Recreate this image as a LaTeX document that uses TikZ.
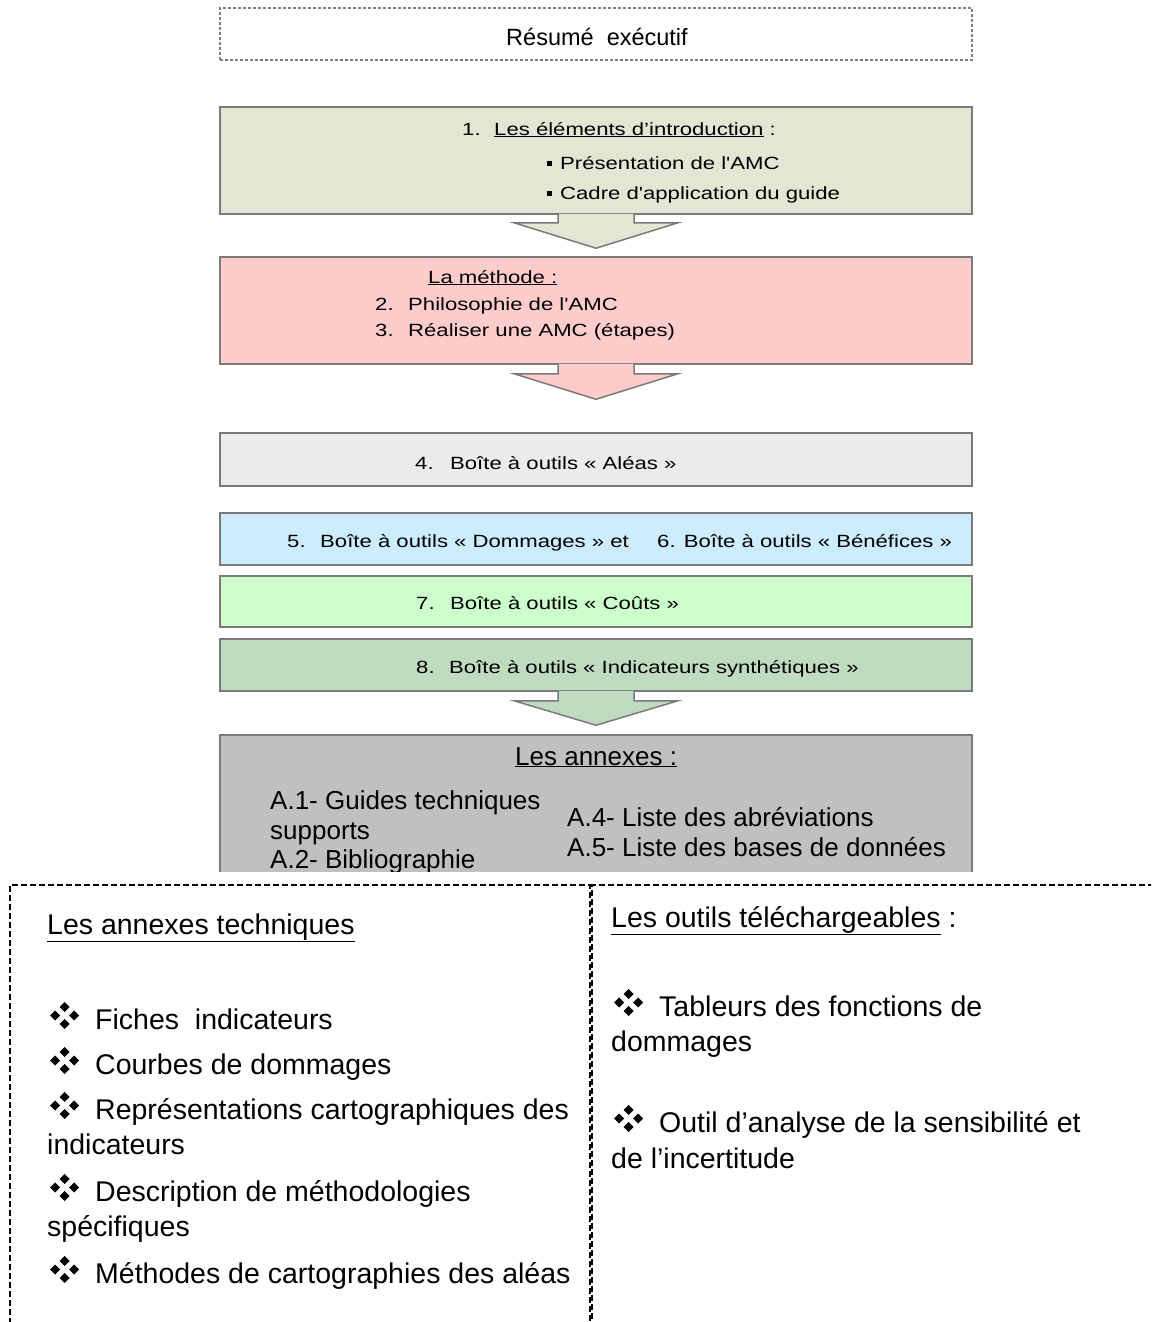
\documentclass[tikz,border=0pt]{standalone}
\usepackage{fontspec}
\setmainfont{Liberation Sans}
\newfontfamily\boxfont[FakeStretch=1.25]{Liberation Sans}
\usetikzlibrary{calc}
\definecolor{introfill}{HTML}{E5E5D3}
\definecolor{methodefill}{HTML}{FFCCCC}
\definecolor{aleasfill}{HTML}{EBEBEB}
\definecolor{dommagesfill}{HTML}{CCECFF}
\definecolor{coutsfill}{HTML}{CCFFCC}
\definecolor{indicfill}{HTML}{C0DCC0}
\definecolor{annexesfill}{HTML}{C0C0C0}
\definecolor{boxline}{HTML}{7A7A7A}
\tikzset{
  box/.style={draw=boxline, line width=1.5pt, minimum width=752pt, inner sep=0pt},
  boxtext/.style={anchor=base west, inner sep=0pt, font=\boxfont\fontsize{17.7}{21}\selectfont},
  annextext/.style={anchor=base west, inner sep=0pt, font=\fontsize{26}{30}\selectfont},
  paneltext/.style={anchor=base west, inner sep=0pt, font=\fontsize{28.5}{34}\selectfont},
  panel/.style={draw=black, line width=1.5pt, dash pattern=on 6pt off 3pt, inner sep=0pt},
  blockarrow/.style={draw=boxline, line width=1.5pt, line join=miter},
}
% four small diamonds as bullet
\newcommand{\diam}{\makebox[45pt][l]{\raisebox{0pt}{\tikz[x=1pt,y=1pt]
  \foreach \p in {(-9.5,0),(9.5,0),(0,8.5),(0,-8.5)}
    \fill \p +(0,5) -- +(5,0) -- +(0,-5) -- +(-5,0) -- cycle;}}}
\begin{document}
\begin{tikzpicture}[x=1pt,y=-1pt]
\useasboundingbox (0,0) rectangle (1151,1322);
\clip (0,0) rectangle (1151,1322);
% summary
\node[draw=gray, line width=1.3pt, dash pattern=on 3pt off 2pt, minimum width=752pt, minimum height=52pt] (resume) at (596,34) {};
\node[anchor=base, inner sep=0pt, font=\fontsize{23.5}{28}\selectfont] (resume_text) at (597,46) {Résumé\ \ exécutif};
% main boxes
\node[box, fill=introfill, minimum height=107pt] (intro) at (596,160.5) {};
\node[box, fill=methodefill, minimum height=107pt] (methode) at (596,310.5) {};
\node[box, fill=aleasfill, minimum height=53pt] (aleas) at (596,459.5) {};
\node[box, fill=dommagesfill, minimum height=52pt] (dommages) at (596,539) {};
\node[box, fill=coutsfill, minimum height=51pt] (couts) at (596,601.5) {};
\node[box, fill=indicfill, minimum height=52pt] (indic) at (596,665) {};
% texts of the boxes
\node[boxtext] (intro_title) at (462,135) {\makebox[32pt][l]{1.}\underline{Les éléments d’introduction} :};
\node[boxtext] (intro_a) at (547,169) {\makebox[13pt][l]{\rule[3pt]{5pt}{5pt}}Présentation de l'AMC};
\node[boxtext] (intro_b) at (547,199) {\makebox[13pt][l]{\rule[3pt]{5pt}{5pt}}Cadre d'application du guide};
\node[boxtext] (methode_title) at (428,283) {\underline{La méthode :}};
\node[boxtext] (methode_a) at (375,310) {\makebox[33pt][l]{2.}Philosophie de l'AMC};
\node[boxtext] (methode_b) at (375,336) {\makebox[33pt][l]{3.}Réaliser une AMC (étapes)};
\node[boxtext] (aleas_text) at (415,469) {\makebox[35pt][l]{4.}Boîte à outils «~Aléas~»};
\node[boxtext] (dommages_text) at (287,547) {\makebox[33pt][l]{5.}Boîte à outils «~Dommages~» et};
\node[boxtext] (benefices_text) at (657,547) {6. Boîte à outils «~Bénéfices~»};
\node[boxtext] (couts_text) at (416,609) {\makebox[34pt][l]{7.}Boîte à outils «~Coûts~»};
\node[boxtext] (indic_text) at (416,673) {\makebox[33pt][l]{8.}Boîte à outils «~Indicateurs synthétiques~»};
% annexes, cut by the panels
\begin{scope}
\clip (0,0) rectangle (1151,871);
\node[box, fill=annexesfill, minimum height=166pt] (annexes) at (596,818) {};
\node[annextext] (annexes_title) at (515,765) {\underline{Les annexes :}};
\node[annextext] (annexe_a1) at (270,809) {A.1- Guides techniques};
\node[annextext] (annexe_a1b) at (270,839) {supports};
\node[annextext] (annexe_a2) at (270,868) {A.2- Bibliographie};
\node[annextext] (annexe_a4) at (567,826) {A.4- Liste des abréviations};
\node[annextext] (annexe_a5) at (567,856) {A.5- Liste des bases de données};
\end{scope}
% arrows
\filldraw[blockarrow, fill=introfill] ($(intro.south)+(-38,-1)$) -- ++(0,9) -- ++(-44,0) -- ($(methode.north)+(0,-8)$) -- ($(intro.south)+(82,8)$) -- ++(-44,0) -- ++(0,-9);
\filldraw[blockarrow, fill=methodefill] ($(methode.south)+(-38,-1)$) -- ++(0,10) -- ++(-44,0) -- ($(aleas.north)+(0,-33)$) -- ($(methode.south)+(82,9)$) -- ++(-44,0) -- ++(0,-10);
\filldraw[blockarrow, fill=indicfill] ($(indic.south)+(-38,-1)$) -- ++(0,10) -- ++(-44,0) -- ($(annexes.north)+(0,-9)$) -- ($(indic.south)+(82,9)$) -- ++(-44,0) -- ++(0,-10);
% panels
\node[panel, minimum width=580pt, minimum height=450pt] (techniques) at (300,1110) {};
\node[panel, minimum width=578pt, minimum height=450pt] (outils) at (881,1110) {};
\node[paneltext] (techniques_title) at (47,934) {\underline{Les annexes techniques}};
\node[paneltext] (fiches) at (50,1029) {\diam Fiches\ \ indicateurs};
\node[paneltext] (courbes) at (50,1074) {\diam Courbes\ de\ dommages};
\node[paneltext] (repr) at (50,1119) {\diam Représentations cartographiques des};
\node[paneltext] (repr_b) at (47,1154) {indicateurs};
\node[paneltext] (descr) at (50,1201) {\diam Description de méthodologies};
\node[paneltext] (descr_b) at (47,1236) {spécifiques};
\node[paneltext] (methodes) at (50,1283) {\diam Méthodes de cartographies des aléas};
\node[paneltext] (outils_title) at (611,927) {\underline{Les outils téléchargeables} :};
\node[paneltext] (tableurs) at (614,1016) {\diam Tableurs\ des\ fonctions\ de};
\node[paneltext] (tableurs_b) at (611,1051) {dommages};
\node[paneltext] (analyse) at (614,1132) {\diam Outil d’analyse de la sensibilité et};
\node[paneltext] (analyse_b) at (611,1168) {de l’incertitude};
\end{tikzpicture}
\end{document}
